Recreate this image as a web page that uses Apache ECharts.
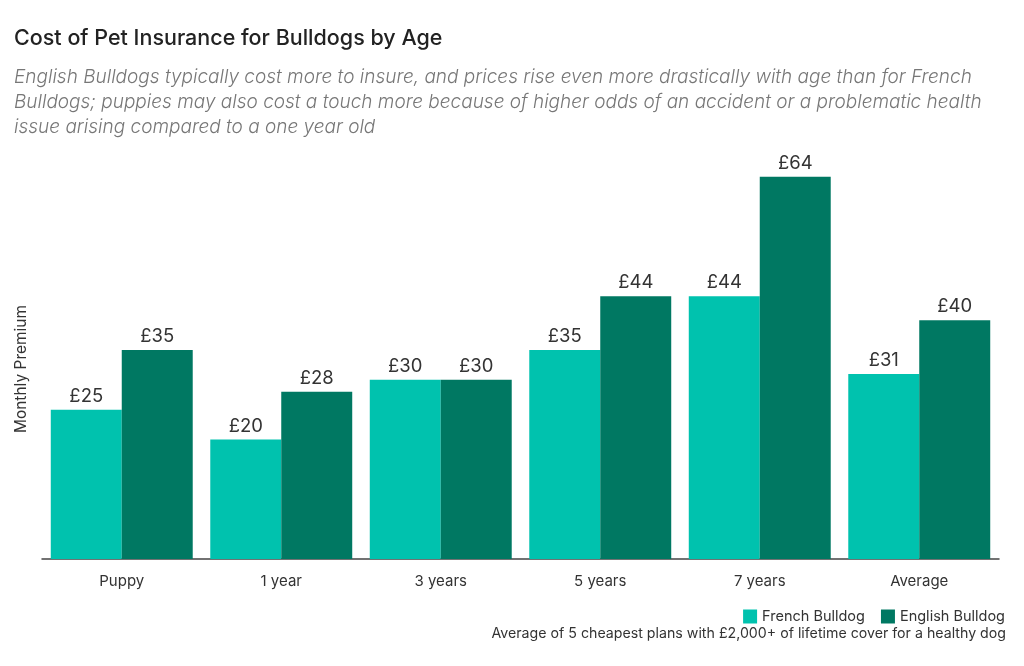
<!DOCTYPE html>
<html><head><meta charset="utf-8">
<script src="https://cdn.jsdelivr.net/npm/echarts@6/dist/echarts.min.js"></script>
<style>html,body{margin:0;padding:0;background:#fff}#c{width:1024px;height:666px}</style>
</head><body><div id="c"></div>
<script>
const categories = ['Puppy', '1 year', '3 years', '5 years', '7 years', 'Average'];
const frenchBulldog = [25, 20, 30, 35, 44, 31];
const englishBulldog = [35, 28, 30, 44, 64, 40];
const seriesNames = ['French Bulldog', 'English Bulldog'];

const chart = echarts.init(document.getElementById('c'));
const font = 'Inter, "Noto Sans", sans-serif';
const labelCfg = {show: true, position: 'top', formatter: p => '£' + p.value, color: '#333', fontSize: 18.5, fontFamily: font, distance: 4};
chart.setOption({
  animation: false,
  textStyle: {fontFamily: font},
  title: {
    text: 'Cost of Pet Insurance for Bulldogs by Age',
    subtext: 'English Bulldogs typically cost more to insure, and prices rise even more drastically with age than for French\nBulldogs; puppies may also cost a touch more because of higher odds of an accident or a problematic health\nissue arising compared to a one year old',
    left: 9, top: 23, itemGap: 15,
    textStyle: {fontSize: 21.5, fontWeight: 500, color: '#222', fontFamily: font},
    subtextStyle: {fontSize: 19, fontStyle: 'italic', fontWeight: 300, color: '#777', lineHeight: 25, fontFamily: font}
  },
  legend: {
    data: seriesNames, right: 14, top: 604, itemWidth: 14, itemHeight: 14, itemGap: 16,
    icon: 'rect', textStyle: {fontSize: 14.5, color: '#333', fontFamily: font}
  },
  graphic: [
    {type: 'text', x: 21, y: 369, rotation: Math.PI / 2, style: {text: 'Monthly Premium', fontSize: 15.5, fill: '#333', fontFamily: font, align: 'center', verticalAlign: 'middle'}},
    {type: 'text', right: 18, top: 627, style: {text: 'Average of 5 cheapest plans with £2,000+ of lifetime cover for a healthy dog', fontSize: 14.2, fill: '#333', fontFamily: font}}
  ],
  grid: {left: 42, right: 25, top: 141, bottom: 107},
  xAxis: {
    type: 'category', data: categories,
    axisLine: {lineStyle: {color: '#444', width: 1.5}}, axisTick: {show: false},
    axisLabel: {fontSize: 15, color: '#333', margin: 15, fontFamily: font}
  },
  yAxis: {type: 'value', min: 0, max: 70, show: false, splitLine: {show: false}},
  series: [
    {name: seriesNames[0], type: 'bar', data: frenchBulldog, itemStyle: {color: '#00c2ae'}, barGap: '0%', barCategoryGap: '11%', label: labelCfg},
    {name: seriesNames[1], type: 'bar', data: englishBulldog, itemStyle: {color: '#007862'}, label: labelCfg}
  ]
});
</script></body></html>
